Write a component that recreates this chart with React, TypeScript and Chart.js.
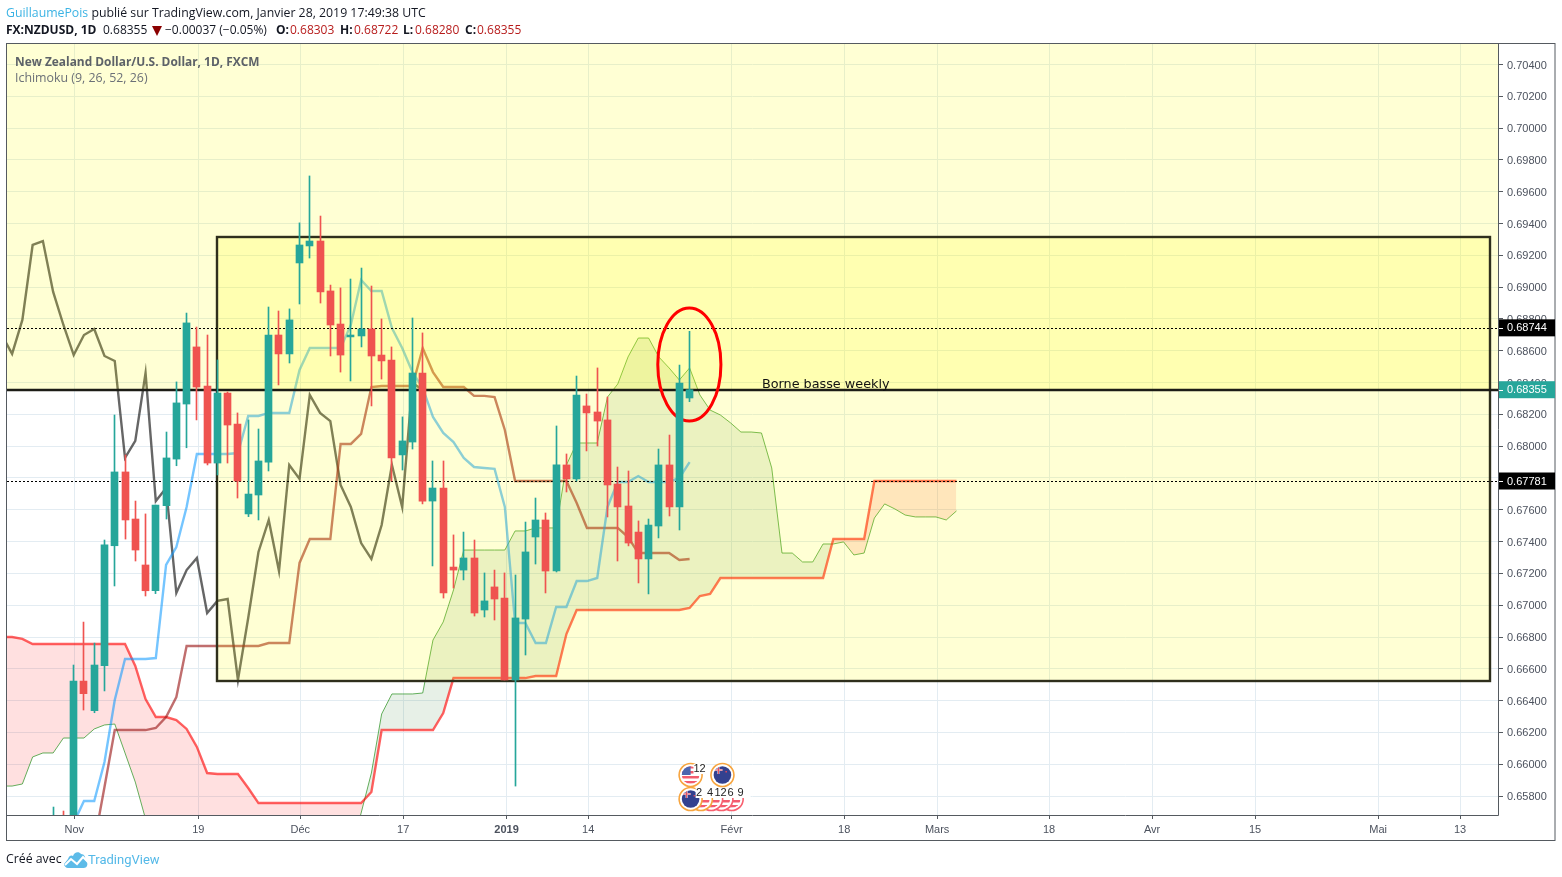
import React, { useEffect, useRef } from "react";
import { Chart, registerables } from "chart.js";

Chart.register(...registerables);

const candleStart = -2;
const opens = [0.655,0.656,0.654,0.66523,0.66337,0.6662,0.67374,0.67838,0.67542,0.67253,0.67091,0.67626,0.67919,0.68265,0.68624,0.68378,0.67894,0.68334,0.68139,0.67574,0.67693,0.679,0.68699,0.6858,0.69152,0.69259,0.6929,0.68976,0.68768,0.68687,0.68693,0.68737,0.68573,0.68542,0.67945,0.68026,0.6846,0.67655,0.67737,0.6724,0.67221,0.67297,0.6697,0.67115,0.67045,0.6653,0.66913,0.67429,0.67536,0.67215,0.67882,0.67794,0.68253,0.68215,0.68165,0.67762,0.67624,0.6746,0.67291,0.67498,0.67882,0.67618,0.68303];
const highs = [0.65731,0.65706,0.66624,0.66894,0.66762,0.6741,0.68196,0.67945,0.67655,0.67574,0.6763,0.68089,0.68404,0.68837,0.68749,0.68699,0.68542,0.68341,0.68209,0.68165,0.68108,0.68875,0.6885,0.68863,0.69404,0.69699,0.69447,0.69013,0.68995,0.69051,0.6912,0.69007,0.688,0.68624,0.68184,0.68806,0.68712,0.67907,0.67907,0.67442,0.6746,0.6741,0.67203,0.67221,0.67203,0.6719,0.67523,0.67674,0.6758,0.68127,0.67951,0.68441,0.68328,0.68492,0.68309,0.67869,0.67844,0.6753,0.67542,0.67982,0.6807,0.6851,0.68722];
const lows = [0.6545,0.6545,0.6535,0.66341,0.66324,0.66461,0.67121,0.67416,0.67278,0.67058,0.67073,0.67542,0.67877,0.6799,0.68165,0.67882,0.67819,0.67894,0.67674,0.67557,0.67536,0.67844,0.68385,0.68523,0.68894,0.69183,0.689,0.68567,0.68466,0.6841,0.68624,0.68253,0.68422,0.67781,0.6785,0.67982,0.67637,0.67247,0.67045,0.67108,0.67159,0.66932,0.66926,0.66907,0.6653,0.65863,0.66687,0.67259,0.67077,0.67209,0.67712,0.67781,0.6797,0.68001,0.67555,0.67278,0.67373,0.6714,0.67071,0.67423,0.67561,0.67473,0.6828];
const closes = [0.656,0.655,0.66523,0.66444,0.66624,0.67379,0.67838,0.67536,0.67347,0.67091,0.6763,0.67926,0.68272,0.68775,0.68372,0.67894,0.68334,0.68133,0.67781,0.67699,0.67907,0.68699,0.6858,0.68794,0.69265,0.6929,0.6897,0.68762,0.68573,0.68699,0.68737,0.68567,0.68536,0.67926,0.68033,0.6846,0.67655,0.67737,0.67077,0.67221,0.67297,0.66951,0.67027,0.67039,0.6653,0.6692,0.67335,0.67536,0.67215,0.67882,0.67794,0.68322,0.68209,0.68158,0.67756,0.67618,0.67391,0.67291,0.67504,0.67882,0.67618,0.68397,0.68355];

const tenkanStart = 0;
const tenkan = [0.65631,0.65769,0.65769,0.66014,0.66404,0.66662,0.66662,0.66662,0.66668,0.67253,0.67366,0.67618,0.67951,0.67951,0.67951,0.67951,0.67957,0.6819,0.6819,0.68209,0.68209,0.68209,0.68479,0.68617,0.68617,0.68617,0.68617,0.68762,0.69045,0.68976,0.68976,0.68743,0.68617,0.68466,0.68366,0.68184,0.68083,0.68026,0.67926,0.67869,0.67863,0.67857,0.67618,0.66888,0.66888,0.66762,0.66762,0.66989,0.66989,0.67152,0.67152,0.67171,0.67618,0.67775,0.67775,0.67812,0.67775,0.67775,0.67775,0.678,0.679];

const kijunStart = 2;
const kijun = [0.65505,0.65857,0.66215,0.66215,0.66215,0.66215,0.66228,0.66297,0.66423,0.66744,0.66744,0.66744,0.66744,0.66744,0.66744,0.66744,0.66744,0.66762,0.66762,0.66762,0.67266,0.67416,0.67416,0.67416,0.68014,0.68014,0.68077,0.68372,0.68378,0.68378,0.68378,0.68378,0.68617,0.68466,0.68372,0.68372,0.68372,0.68316,0.68316,0.68309,0.68102,0.67781,0.67781,0.67781,0.67781,0.67781,0.67781,0.67643,0.67486,0.67486,0.67486,0.67486,0.67429,0.67328,0.67328,0.67328,0.67328,0.67284,0.67291];

const chikouStart = -7;
const chikou = [0.68699,0.6858,0.68794,0.69265,0.6929,0.6897,0.68762,0.68573,0.68699,0.68737,0.68567,0.68536,0.67926,0.68033,0.6846,0.67655,0.67737,0.67077,0.67221,0.67297,0.66951,0.67027,0.67039,0.6653,0.6692,0.67335,0.67536,0.67215,0.67882,0.67794,0.68322,0.68209,0.68158,0.67756,0.67618,0.67391,0.67291,0.67504,0.67882,0.67618,0.68397,0.68355];

const spanStart = -7;
const spanA = [0.65863,0.65863,0.65876,0.66046,0.66071,0.66071,0.66165,0.66165,0.66165,0.66222,0.66247,0.66253,0.66071,0.65888,0.65656,0.655,0.6548,0.6546,0.6545,0.6544,0.6543,0.6543,0.6542,0.6542,0.6541,0.6541,0.6541,0.6542,0.6542,0.6543,0.6543,0.6544,0.6545,0.6546,0.65461,0.65693,0.65945,0.66316,0.66442,0.66442,0.66442,0.66448,0.66781,0.66895,0.67096,0.67347,0.67347,0.67347,0.67347,0.67347,0.67467,0.67467,0.67486,0.67486,0.67486,0.67882,0.6802,0.6802,0.6802,0.68309,0.68391,0.68561,0.6868,0.6868,0.68561,0.68492,0.68416,0.68492,0.68322,0.68227,0.68196,0.68146,0.68089,0.68089,0.68083,0.67863,0.67328,0.67328,0.67272,0.67272,0.67385,0.67385,0.67398,0.67316,0.67328,0.67548,0.67637,0.67605,0.67567,0.67555,0.67555,0.67555,0.67536,0.67593];
const spanB = [0.668,0.668,0.66788,0.66756,0.66756,0.66756,0.66756,0.66756,0.66756,0.66756,0.66756,0.66756,0.66756,0.66618,0.6641,0.66297,0.66297,0.66278,0.66222,0.66109,0.65945,0.65939,0.65939,0.65939,0.65851,0.65756,0.65756,0.65756,0.65756,0.65756,0.65756,0.65756,0.65756,0.65756,0.65756,0.65756,0.65826,0.66215,0.66215,0.66215,0.66215,0.66215,0.66215,0.66322,0.66542,0.66542,0.66542,0.66542,0.66542,0.66542,0.66542,0.66542,0.66555,0.66555,0.66555,0.66819,0.6697,0.6697,0.6697,0.6697,0.6697,0.6697,0.6697,0.6697,0.6697,0.6697,0.6697,0.66983,0.67058,0.67071,0.67171,0.67171,0.67171,0.67171,0.67171,0.67171,0.67171,0.67171,0.67171,0.67171,0.67171,0.67416,0.67416,0.67416,0.67416,0.67781,0.67781,0.67781,0.67781,0.67781,0.67781,0.67781,0.67781,0.67781];

const xTickValues = [0.06,12.14,22.07,32.1,42.17,50.12,64.09,75.06,84.11,95.02,105.05,115.09,127.07,135.05];
const xTickLabels = ["Nov","19","Déc","17","2019","14","Févr","18","Mars","18","Avr","15","Mai","13"];
const boldLabels = ["2019"];
const yTickValues = [0.658,0.66,0.662,0.664,0.666,0.668,0.67,0.672,0.674,0.676,0.678,0.68,0.682,0.684,0.686,0.688,0.69,0.692,0.694,0.696,0.698,0.7,0.702,0.704];

const xMin = -6.497, xMax = 138.75, yMin = 0.65681, yMax = 0.70535;
const weeklyTop = 0.69315, weeklyBottom = 0.66523, weeklyLeft = 14, weeklyRight = 138;
const lastPrice = 0.68355, levelHigh = 0.68744, levelLow = 0.67781;
const circleBox = { left: 56.9, right: 63.05, top: 0.68869, bottom: 0.68158 };
const noteText = "Borne basse weekly", noteIndex = 67.04, notePrice = 0.68363;
const eventsTop = [{ i: 60, kind: "us", label: "12", labelX: 699.5 }, { i: 63.1, kind: "nz", label: "", labelX: 0 }];
const eventsBottom = [
  { i: 64, kind: "us", label: "9", labelX: 740.5 },
  { i: 63, kind: "us", label: "6", labelX: 730.5 },
  { i: 62, kind: "us", label: "12", labelX: 720.5 },
  { i: 61, kind: "us", label: "4", labelX: 710 },
  { i: 60, kind: "nz", label: "2", labelX: 699 },
];

const TEAL = "#26a69a", RED = "#ef5350";
const AXIS = "#555a60", TEXT = "#4c525e";
const TICK_FONT = "'Liberation Sans', Arial, sans-serif";
const UI_FONT = "'Open Sans', 'Noto Sans', sans-serif";

const toPoints = (values: number[], start: number) => values.map((y, k) => ({ x: start + k, y }));

function drawFlag(ctx: CanvasRenderingContext2D, x: number, y: number, kind: string, ring: string) {
  ctx.save();
  ctx.beginPath();
  ctx.arc(x, y, 11.5, 0, Math.PI * 2);
  ctx.fillStyle = "#ffffff";
  ctx.fill();
  ctx.strokeStyle = ring;
  ctx.lineWidth = 1.6;
  ctx.stroke();
  ctx.beginPath();
  ctx.arc(x, y, 8.8, 0, Math.PI * 2);
  ctx.clip();
  if (kind === "us") {
    ctx.fillStyle = "#ffffff";
    ctx.fillRect(x - 10, y - 10, 20, 20);
    ctx.fillStyle = "#f25c6e";
    for (let s = -9; s < 10; s += 5) ctx.fillRect(x - 10, y + s, 20, 2.5);
    ctx.fillStyle = "#4a66b0";
    ctx.fillRect(x - 10, y - 10, 10, 10);
  } else {
    ctx.fillStyle = "#33418f";
    ctx.fillRect(x - 10, y - 10, 20, 20);
    ctx.fillStyle = "#e9eef6";
    ctx.fillRect(x - 8, y - 6, 8, 2);
    ctx.fillRect(x - 5, y - 9, 2, 8);
    ctx.fillStyle = "#e2475a";
    ctx.fillRect(x - 8, y - 5.5, 8, 1);
    ctx.fillRect(x - 4.5, y - 9, 1, 8);
    ctx.fillRect(x + 3, y - 4, 1.5, 1.5);
  }
  ctx.restore();
}

const chartPlugin = {
  id: "tvDecor",
  afterDatasetsUpdate(chart: any) {
    chart.data.datasets.forEach((ds: any, k: number) => {
      if (ds.type === "bar") {
        chart.getDatasetMeta(k).data.forEach((el: any) => {
          el.x = Math.floor(el.x) + 0.5;
        });
      }
    });
  },
  beforeDatasetDraw(chart: any, args: any) {
    if (chart.data.datasets[args.index].label !== "wicks") return;
    const { ctx, chartArea: a, scales } = chart;
    const X = (v: number) => scales.x.getPixelForValue(v);
    const Y = (v: number) => scales.y.getPixelForValue(v);
    ctx.save();
    ctx.beginPath();
    ctx.rect(a.left, a.top, a.right - a.left, a.bottom - a.top);
    ctx.clip();
    const yLast = Math.round(Y(lastPrice));
    ctx.fillStyle = "rgba(255,255,0,0.17)";
    ctx.fillRect(a.left, a.top, a.right - a.left, yLast - a.top);
    const rx = X(weeklyLeft), ry = Y(weeklyTop), rw = X(weeklyRight) - rx, rh = Y(weeklyBottom) - ry;
    ctx.fillRect(rx, ry, rw, rh);
    ctx.strokeStyle = "#2f2f1c";
    ctx.lineWidth = 2.4;
    ctx.strokeRect(Math.round(rx), Math.round(ry), Math.round(rw), Math.round(rh));
    ctx.strokeStyle = "#1c1c16";
    ctx.beginPath();
    ctx.moveTo(a.left, yLast);
    ctx.lineTo(a.right, yLast);
    ctx.stroke();
    ctx.strokeStyle = "#000000";
    ctx.lineWidth = 1;
    ctx.setLineDash([2, 2]);
    [levelHigh, levelLow].forEach((v) => {
      const y = Math.round(Y(v)) + 0.5;
      ctx.beginPath();
      ctx.moveTo(a.left, y);
      ctx.lineTo(a.right, y);
      ctx.stroke();
    });
    ctx.setLineDash([]);
    const x0 = X(circleBox.left), x1 = X(circleBox.right), y0 = Y(circleBox.top), y1 = Y(circleBox.bottom);
    ctx.strokeStyle = "#ff0000";
    ctx.lineWidth = 3;
    ctx.beginPath();
    ctx.ellipse((x0 + x1) / 2, (y0 + y1) / 2, (x1 - x0) / 2, (y1 - y0) / 2, 0, 0, Math.PI * 2);
    ctx.stroke();
    ctx.fillStyle = "#111111";
    ctx.font = "12.8px 'DejaVu Sans', sans-serif";
    ctx.textBaseline = "alphabetic";
    ctx.textAlign = "left";
    ctx.fillText(noteText, X(noteIndex), Y(notePrice));
    ctx.restore();
  },
  afterDatasetsDraw(chart: any) {
    const { ctx, chartArea: a, scales } = chart;
    const X = (v: number) => scales.x.getPixelForValue(v);
    const Y = (v: number) => scales.y.getPixelForValue(v);
    ctx.save();
    // event icons
    eventsBottom.forEach((e) => drawFlag(ctx, X(e.i) + 1, 799, e.kind, e.kind === "nz" || e.i < 62 ? "#f7a53f" : "#f8606f"));
    ctx.fillStyle = "#ffffff";
    ctx.fillRect(X(60) + 6, 786, 55, 12);
    eventsTop.forEach((e) => drawFlag(ctx, X(e.i) + 1, 775, e.kind, "#f7a53f"));
    ctx.font = "11px " + TICK_FONT;
    ctx.textAlign = "center";
    ctx.textBaseline = "middle";
    ctx.fillStyle = "#222222";
    eventsTop.forEach((e) => {
      if (e.label) {
        ctx.fillStyle = "#ffffff";
        ctx.fillRect(e.labelX - 6, 764, 12, 10);
        ctx.fillStyle = "#222222";
        ctx.fillText(e.label, e.labelX, 769);
      }
    });
    eventsBottom.forEach((e) => ctx.fillText(e.label, e.labelX, 792.5));
    // frame
    ctx.strokeStyle = AXIS;
    ctx.lineWidth = 1;
    ctx.strokeRect(6.5, 43.5, 1548.5, 797);
    ctx.beginPath();
    ctx.moveTo(a.right + 0.5, 43.5);
    ctx.lineTo(a.right + 0.5, 815.5);
    ctx.moveTo(6.5, 815.5);
    ctx.lineTo(a.right + 0.5, 815.5);
    ctx.stroke();
    // price boxes
    const boxes: [number, string][] = [[levelHigh, "#000000"], [lastPrice, TEAL], [levelLow, "#000000"]];
    boxes.forEach(([v, color]) => {
      const y = Y(v);
      ctx.fillStyle = color;
      ctx.fillRect(a.right + 1, y - 8.5, 56, 17);
      ctx.strokeStyle = "#ffffff";
      ctx.beginPath();
      ctx.moveTo(a.right + 1, Math.round(y) + 0.5);
      ctx.lineTo(a.right + 5, Math.round(y) + 0.5);
      ctx.stroke();
      ctx.fillStyle = "#ffffff";
      ctx.font = "11px " + TICK_FONT;
      ctx.textAlign = "left";
      ctx.textBaseline = "middle";
      ctx.fillText(v.toFixed(5), 1507, y + 0.5);
    });
    ctx.restore();
  },
};

export default function App() {
  const ref = useRef<HTMLCanvasElement>(null);
  useEffect(() => {
    const colorOf = (k: number) => (closes[k] >= opens[k] ? TEAL : RED);
    const chart = new Chart(ref.current as HTMLCanvasElement, {
      type: "bar",
      plugins: [chartPlugin],
      data: {
        datasets: [
          { type: "line", label: "spanB", order: 6, data: toPoints(spanB, spanStart), borderColor: "rgba(255,0,0,0.62)", borderWidth: 2.4, pointRadius: 0, tension: 0, fill: false },
          { type: "line", label: "spanA", order: 7, data: toPoints(spanA, spanStart), borderColor: "rgba(50,150,40,0.75)", borderWidth: 1, pointRadius: 0, tension: 0, fill: { target: 0, above: "rgba(67,140,67,0.13)", below: "rgba(255,0,0,0.12)" } },
          { type: "line", label: "chikou", order: 5, data: toPoints(chikou, chikouStart), borderColor: "rgba(30,30,30,0.68)", borderWidth: 2.4, pointRadius: 0, tension: 0 },
          { type: "line", label: "kijun", order: 4, data: toPoints(kijun, kijunStart), borderColor: "rgba(153,21,21,0.62)", borderWidth: 2.4, pointRadius: 0, tension: 0 },
          { type: "line", label: "tenkan", order: 3, data: toPoints(tenkan, tenkanStart), borderColor: "rgba(4,150,255,0.55)", borderWidth: 2.4, pointRadius: 0, tension: 0 },
          { type: "bar", label: "wicks", order: 2, grouped: false, barThickness: 1, data: lows.map((l, k) => ({ x: candleStart + k, y: [l, highs[k]] })), backgroundColor: opens.map((_, k) => colorOf(k)), borderWidth: 0 },
          { type: "bar", label: "bodies", order: 1, grouped: false, barThickness: 7, data: opens.map((o, k) => ({ x: candleStart + k, y: [o, closes[k]] })), backgroundColor: opens.map((_, k) => colorOf(k)), borderWidth: 0 },
        ] as any,
      },
      options: {
        responsive: false,
        animation: false,
        devicePixelRatio: 1,
        events: [],
        layout: { padding: { left: 7, top: 43, right: 7, bottom: 37 } },
        plugins: { legend: { display: false }, tooltip: { enabled: false }, title: { display: false } },
        scales: {
          x: {
            type: "linear",
            min: xMin,
            max: xMax,
            offset: false,
            border: { display: false },
            grid: { offset: false, color: "#e3ecf2", lineWidth: 1, tickColor: AXIS, tickLength: 4 },
            afterBuildTicks: (axis: any) => {
              axis.ticks = xTickValues.map((value) => ({ value }));
            },
            afterFit: (axis: any) => {
              axis.height = 25;
            },
            ticks: {
              autoSkip: false,
              maxRotation: 0,
              padding: 4,
              color: TEXT,
              font: (c: any) => ({
                family: TICK_FONT,
                size: 11,
                weight: boldLabels.includes(xTickLabels[c.index]) ? "bold" : "normal",
              }),
              callback: (_v: any, i: number) => xTickLabels[i],
            },
          },
          y: {
            position: "right",
            min: yMin,
            max: yMax,
            border: { display: false },
            grid: { color: "#e3ecf2", lineWidth: 1, tickColor: AXIS, tickLength: 5 },
            afterBuildTicks: (axis: any) => {
              axis.ticks = yTickValues.map((value) => ({ value }));
            },
            afterFit: (axis: any) => {
              axis.width = 57;
            },
            ticks: {
              autoSkip: false,
              padding: 4,
              labelOffset: 1,
              color: TEXT,
              font: { family: TICK_FONT, size: 11 },
              callback: (v: any) => Number(v).toFixed(5),
            },
          },
        },
      } as any,
    });
    return () => chart.destroy();
  }, []);

  const at = (left: number, top: number, extra: any = {}) => ({
    position: "absolute" as const,
    left,
    top,
    whiteSpace: "nowrap" as const,
    fontFamily: UI_FONT,
    fontSize: 12,
    lineHeight: "16px",
    color: "#131722",
    ...extra,
  });
  const bold = { fontWeight: 700 };
  const num = { color: "#b71c1c" };
  return (
    <div style={{ position: "fixed", left: 0, top: 0, width: 1562, height: 877, background: "#fff", overflow: "hidden" }}>
      <canvas ref={ref} width={1562} height={877} style={{ position: "absolute", left: 0, top: 0, width: 1562, height: 877 }} />
      <div style={at(6, 5, { fontSize: 12.3 })}>
        <span style={{ color: "#3bb3e4" }}>GuillaumePois</span> publié sur TradingView.com, Janvier 28, 2019 17:49:38 UTC
      </div>
      <div style={at(6, 22, bold)}>FX:NZDUSD, 1D</div>
      <div style={at(103, 22)}>0.68355</div>
      <svg style={{ position: "absolute", left: 152, top: 26 }} width="10" height="10"><polygon points="0,0 10,0 5,10" fill="#8b0000" /></svg>
      <div style={at(165, 22)}>−0.00037 (−0.05%)</div>
      <div style={at(276, 22, bold)}>O:</div>
      <div style={at(290, 22, num)}>0.68303</div>
      <div style={at(340, 22, bold)}>H:</div>
      <div style={at(354, 22, num)}>0.68722</div>
      <div style={at(403, 22, bold)}>L:</div>
      <div style={at(415, 22, num)}>0.68280</div>
      <div style={at(465, 22, bold)}>C:</div>
      <div style={at(477, 22, num)}>0.68355</div>
      <div style={at(15, 53, { ...bold, fontSize: 11.9, color: "#5d6268" })}>New Zealand Dollar/U.S. Dollar, 1D, FXCM</div>
      <div style={at(15, 70, { fontSize: 12.4, color: "#6b7077" })}>Ichimoku (9, 26, 52, 26)</div>
      <div style={at(6, 851, { fontSize: 12.3 })}>Créé avec</div>
      <svg style={{ position: "absolute", left: 64, top: 851 }} width="24" height="17" viewBox="0 0 24 17">
        <path d="M0 13 L4 8 C5 4 8 4 9 5 C10 1 15 0 17 3 C20 3 22 6 21 9 C23 10 24 13 23 15 C22 17 20 17 18 17 L4 17 C2 17 0 15 0 13 Z" fill="#5dbbe8" />
        <path d="M1 14 L7 8 L13 13 L19 6 L24 11" fill="none" stroke="#ffffff" strokeWidth="2" />
      </svg>
      <div style={at(88, 852, { color: "#54b9e8", fontSize: 13, fontFamily: "Roboto, sans-serif" })}>TradingView</div>
    </div>
  );
}
